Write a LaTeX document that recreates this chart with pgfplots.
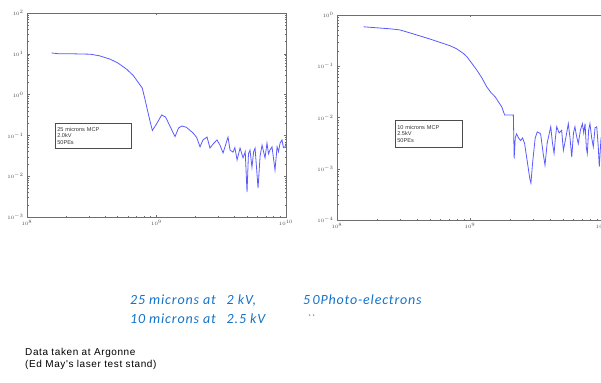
\documentclass[border=0pt]{standalone}
\usepackage{pgfplots}
\pgfplotsset{compat=1.18}
\usepackage{pgfplotstable}
\usepackage{fontspec}
\setmainfont{Liberation Sans}
\newfontfamily\calfont[LetterSpace=6]{Carlito}
\newfontfamily\notefont[LetterSpace=6]{Liberation Sans}
\definecolor{mblue}{RGB}{90,90,255}
\definecolor{capblue}{RGB}{20,115,200}
\definecolor{framegray}{RGB}{110,110,110}

\pgfplotstableread{
f a
1.549e8 10.47
1.778e8 10.0
2.239e8 10.0
3.090e8 9.772
3.631e8 8.913
4.365e8 7.413
5.012e8 6.026
5.888e8 4.169
6.607e8 2.951
7.413e8 1.778
7.762e8 1.445
8.128e8 0.7943
8.511e8 0.4169
8.913e8 0.2239
9.290e8 0.1318
1.000e9 0.1905
1.096e9 0.3162
1.175e9 0.2818
1.259e9 0.1778
1.390e9 0.09333
1.479e9 0.1514
1.567e9 0.1698
1.698e9 0.1585
1.914e9 0.1148
2.042e9 0.08913
2.168e9 0.05248
2.286e9 0.07762
2.455e9 0.09120
2.588e9 0.04898
2.754e9 0.06310
2.931e9 0.07762
3.090e9 0.05754
3.266e9 0.03715
3.565e9 0.09120
3.698e9 0.04365
3.899e9 0.03890
4.027e9 0.05012
4.188e9 0.02512
4.416e9 0.04898
4.656e9 0.02818
4.842e9 0.03981
5.000e9 0.004074
5.129e9 0.03548
5.272e9 0.04365
5.458e9 0.01660
5.623e9 0.03981
5.768e9 0.04898
6.081e9 0.005129
6.310e9 0.03162
6.531e9 0.05754
6.887e9 0.02818
7.129e9 0.06457
7.328e9 0.03548
7.516e9 0.04365
7.798e9 0.05248
8.222e9 0.01413
8.531e9 0.05248
8.750e9 0.03981
8.995e9 0.06457
9.311e9 0.07762
9.550e9 0.05012
9.817e9 0.05248
1.000e10 0.06310
}\leftdata

\pgfplotstableread{
f a
1.585e8 0.5888
1.995e8 0.5623
2.512e8 0.5370
2.951e8 0.5129
3.548e8 0.4467
3.981e8 0.4074
5.012e8 0.3388
5.888e8 0.2951
7.079e8 0.2512
7.943e8 0.2188
8.913e8 0.1778
9.441e8 0.1549
1.023e9 0.1175
1.122e9 0.08511
1.230e9 0.05888
1.334e9 0.03981
1.445e9 0.03020
1.549e9 0.02512
1.660e9 0.01905
1.738e9 0.01585
1.820e9 0.01122
1.995e9 0.01122
2.118e9 0.01122
2.148e9 0.001585
2.188e9 0.003981
2.239e9 0.004786
2.317e9 0.003981
2.399e9 0.003548
2.483e9 0.003981
2.570e9 0.003162
2.692e9 0.001413
2.818e9 0.0006310
2.871e9 0.0005248
2.951e9 0.001259
3.090e9 0.003981
3.206e9 0.005248
3.311e9 0.005012
3.396e9 0.004786
3.548e9 0.001995
3.664e9 0.001175
3.802e9 0.003162
4.046e9 0.006607
4.169e9 0.003162
4.285e9 0.001995
4.385e9 0.003981
4.487e9 0.006607
4.677e9 0.005012
4.887e9 0.005623
5.035e9 0.002291
5.248e9 0.003981
5.483e9 0.007586
5.649e9 0.003981
5.821e9 0.001698
5.998e9 0.005012
6.152e9 0.006607
6.310e9 0.004467
6.516e9 0.003090
6.761e9 0.005623
6.998e9 0.007586
7.161e9 0.005012
7.328e9 0.007586
7.499e9 0.002512
7.621e9 0.001995
7.798e9 0.005623
7.980e9 0.007586
8.222e9 0.003981
8.453e9 0.002692
8.710e9 0.006310
8.974e9 0.006607
9.226e9 0.002512
9.376e9 0.001096
9.661e9 0.003981
1.000e10 0.005012
}\rightdata

\pgfplotsset{
  mstyle/.style={
    scale only axis,
    xmin=1e8, xmax=1e10,
    tick pos=both,
    tick align=inside,
    axis line style={framegray, line width=0.6pt},
    major tick style={framegray, line width=0.4pt},
    minor tick style={framegray, line width=0.4pt},
    major tick length=2.5pt,
    minor tick length=1.5pt,
    tick label style={font=\fontsize{4.2}{4.5}\selectfont, text=black!70},
  }
}

\begin{document}
\begin{tikzpicture}
\begin{axis}[xmode=log, ymode=log, mstyle,
  at={(27pt,-217pt)}, anchor=south west,
  width=259pt, height=204pt,
  ymin=1e-3, ymax=1e2]
\addplot[mblue, line width=0.8pt] table[x=f, y=a] {\leftdata};
\end{axis}
\begin{axis}[xmode=log, ymode=log, mstyle,
  at={(337pt,-220pt)}, anchor=south west,
  width=266pt, height=205pt,
  ymin=1e-4, ymax=1e0]
\addplot[mblue, line width=0.8pt] table[x=f, y=a] {\rightdata};
\end{axis}
% annotation boxes
\node[draw=black!70, line width=0.6pt, anchor=north west, minimum width=76pt, minimum height=25pt,
  align=left, inner sep=1.5pt, text=black!80, font=\fontsize{5.6}{6.4}\selectfont, text width=72pt]
  at (55pt,-123pt) {25 microns MCP\\2.0kV\\50PEs};
\node[draw=black!70, line width=0.6pt, anchor=north west, minimum width=67pt, minimum height=27pt,
  align=left, inner sep=1.5pt, text=black!80, font=\fontsize{5.6}{6.4}\selectfont, text width=63pt]
  at (395pt,-120pt) {10 microns MCP\\2.5kV\\50PEs};
% caption
\node[anchor=base west, inner sep=0pt, text=capblue, font=\calfont\itshape\fontsize{14}{16}\selectfont] at (130pt,-304pt) {25 microns at \enskip 2 kV,};
\node[anchor=base west, inner sep=0pt, text=capblue, font=\calfont\itshape\fontsize{14}{16}\selectfont] at (303pt,-304pt) {5\,0Photo-electrons};
\node[anchor=base west, inner sep=0pt, text=capblue, font=\calfont\itshape\fontsize{14}{16}\selectfont] at (130pt,-323pt) {10 microns at \enskip 2.5 kV};
\node[anchor=base west, inner sep=0pt, text=capblue, font=\calfont\itshape\fontsize{11}{16}\selectfont] at (307pt,-322pt) {``};
\node[anchor=base west, inner sep=0pt, text=black, font=\notefont\fontsize{10}{12}\selectfont] at (25pt,-355pt) {Data taken at Argonne};
\node[anchor=base west, inner sep=0pt, text=black, font=\notefont\fontsize{10}{12}\selectfont] at (25pt,-367pt) {(Ed May's laser test stand)};
\pgfresetboundingbox
\useasboundingbox (0pt,0pt) rectangle (601pt,-382pt);
\end{tikzpicture}
\end{document}
